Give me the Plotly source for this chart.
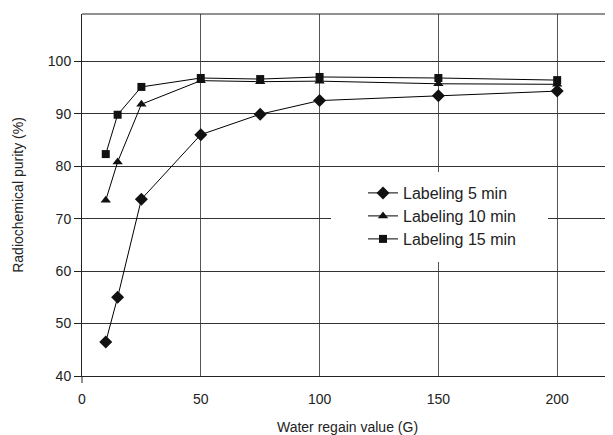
import plotly.graph_objects as go

water_regain = [10, 15, 25, 50, 75, 100, 150, 200]
labeling_5 = [46.5, 55.0, 73.7, 86.0, 89.9, 92.5, 93.4, 94.3]
labeling_10 = [73.5, 80.8, 91.8, 96.3, 96.1, 96.2, 95.7, 95.6]
labeling_15 = [82.3, 89.8, 95.1, 96.8, 96.6, 97.0, 96.8, 96.4]
series_names = ["Labeling 5 min", "Labeling 10 min", "Labeling 15 min"]
series_values = [labeling_5, labeling_10, labeling_15]

symbols = ["diamond", "triangle-up", "square"]
sizes = [10, 9, 8]

font = "Liberation Sans, Arial, sans-serif"
OFF = 8  # page body margin
W, H = 613 - OFF, 435 - OFF
L, R, T, B = 82 - OFF, 0, 14 - OFF, 59
pw, ph = W - L - R, H - T - B


def px_x(p):
    return (p - OFF - L) / pw


def px_y(p):
    return 1 - (p - OFF - T) / ph


fig = go.Figure()
legend_ids = ["legend", "legend2", "legend3"]
for name, vals, sym, size, lg in zip(series_names, series_values, symbols, sizes, legend_ids):
    fig.add_trace(go.Scatter(
        x=water_regain, y=vals, name=name, mode="lines+markers",
        line=dict(color="black", width=1),
        marker=dict(symbol=sym, size=size, color="#111111"),
        legend=lg,
    ))

legend_centers = [193, 216, 239]
legend_common = dict(xanchor="left", yanchor="middle", bgcolor="rgba(255,255,255,0)",
                     borderwidth=0, font=dict(family=font, size=16, color="#222222"))
layout_legends = {}
for lg, cy in zip(legend_ids, legend_centers):
    layout_legends[lg] = dict(x=px_x(363), y=px_y(cy), **legend_common)

fig.update_layout(
    width=W, height=H,
    margin=dict(l=L, r=R, t=T, b=B),
    plot_bgcolor="white", paper_bgcolor="white",
    font=dict(family=font, size=14, color="#222222"),
    showlegend=True,
    **layout_legends,
    xaxis=dict(
        range=[0, 223.5], tickvals=[0, 50, 100, 150, 200],
        showgrid=True, gridcolor="#555555", gridwidth=1,
        zeroline=False, showline=True, linecolor="#222222", linewidth=1,
        ticks="", ticklabelstandoff=10,
        title=dict(text="Water regain value (G)", standoff=16,
                   font=dict(family=font, size=14)),
    ),
    yaxis=dict(
        range=[40, 109], tickvals=[40, 50, 60, 70, 80, 90, 100],
        showgrid=True, gridcolor="#333333", gridwidth=1,
        zeroline=False, showline=True, linecolor="#222222", linewidth=1,
        ticks="outside", ticklen=7, tickcolor="#222222",
        title=dict(text="Radiochemical purity (%)", standoff=20,
                   font=dict(family=font, size=14)),
    ),
    shapes=[
        dict(type="line", xref="paper", yref="paper", x0=0, x1=1, y0=1, y1=1,
             line=dict(color="#222222", width=1)),
        dict(type="line", xref="paper", yref="paper", x0=0, x1=0, y0=0, y1=-7 / ph,
             line=dict(color="#222222", width=1)),
        dict(type="rect", xref="paper", yref="paper",
             x0=px_x(331), x1=px_x(548), y0=px_y(262), y1=px_y(172),
             fillcolor="white", line=dict(width=0), layer="above"),
    ],
)

fig.write_html("out.html")
